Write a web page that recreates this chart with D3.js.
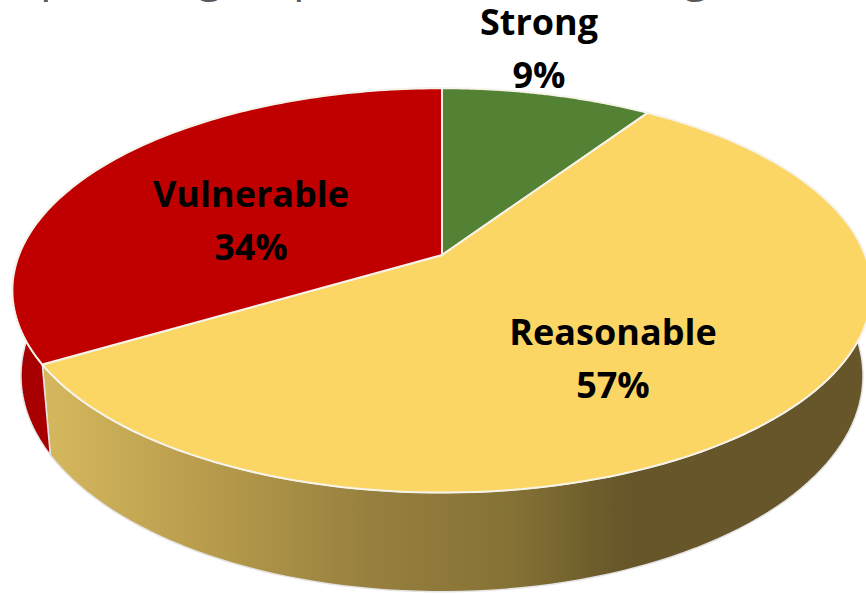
<!DOCTYPE html>
<html>
<head>
<meta charset="utf-8">
<script src="https://cdn.jsdelivr.net/npm/d3@7"></script>
<style>
html, body { margin: 0; padding: 0; background: #fff; overflow: hidden; }
svg { display: block; }
.label { font-family: "Open Sans", sans-serif; font-weight: 700; font-size: 36px; fill: #000; text-anchor: middle; }
.title { font-family: "Open Sans", sans-serif; font-size: 46px; fill: #595959; text-anchor: middle; }
</style>
</head>
<body>
<div id="chart"></div>
<script>
// data
const categories = ['Strong', 'Reasonable', 'Vulnerable'];
// estimated from the slice edges, the labels round them to 9 / 57 / 34
const shares = [9.4, 57.1, 33.5];
const sliceColors = ['#548235', '#fbd665', '#c00000'];
// only the tails of the title are left in the picture
const titleGlyphs = ['p', 'g', 'p', 'g'];
const titleX = [54, 210, 307, 696];
const labelX = [539, 613, 251];
const labelY = [35, 345, 207];

const width = 866, height = 594;

const svg = d3.select('#chart').append('svg')
    .attr('width', width).attr('height', height);

// tilted disc: perspective of a unit circle
const cx = 442, cy = 255, a = 423, b = 196, k = 0.175;
function rimTop(angle) {
    const X = Math.sin(angle), Y = -Math.cos(angle);
    const s = 1 / (1 - k * Y);
    return [cx + a * X * s, cy + b * Y * s];
}
// rim at the bottom of the wall
function rimBase(angle) {
    const p = rimTop(angle);
    return [cx + (p[0] - cx) * 0.98, cy + 83 + (p[1] - cy) * 1.068];
}
function arcAngles(d) {
    return d3.range(0, 121).map(i => d.startAngle + (d.endAngle - d.startAngle) * i / 120);
}

const pie = d3.pie().sort(null).value(d => d.share);
const slices = pie(categories.map((c, i) => ({ name: c, share: shares[i], color: sliceColors[i], i: i })));
const line = d3.line();

// wall gradient, light on the left and dark from about x=630
const grad = svg.append('defs').append('linearGradient')
    .attr('id', 'wall').attr('gradientUnits', 'userSpaceOnUse')
    .attr('x1', 40).attr('x2', 866).attr('y1', 0).attr('y2', 0);
[[0, '#d6b85e'], [0.2, '#b89c4c'], [0.4, '#97803f'], [0.57, '#857235'], [0.71, '#665629'], [1, '#665629']]
    .forEach(s => grad.append('stop').attr('offset', s[0]).attr('stop-color', s[1]));

// walls first, the top covers what is behind
const walls = svg.append('g');
slices.filter(d => d.data.name !== 'Strong').forEach(d => {
    const angles = arcAngles(d);
    const pts = angles.map(rimTop).concat(angles.slice().reverse().map(rimBase));
    walls.append('path')
        .attr('d', line(pts) + 'Z')
        .attr('fill', d.data.name === 'Vulnerable' ? '#a80000' : 'url(#wall)')
        .attr('stroke', '#e4e4e4')
        .attr('stroke-width', 1.5);
});

// top of the disc
svg.append('g').selectAll('path')
    .data(slices)
    .join('path')
    .attr('d', d => line([[cx, cy]].concat(arcAngles(d).map(rimTop))) + 'Z')
    .attr('fill', d => d.data.color)
    .attr('stroke', '#f6f3ea')
    .attr('stroke-width', 2)
    .attr('stroke-linejoin', 'round');

// labels
const labels = svg.append('g').selectAll('text')
    .data(slices)
    .join('text')
    .attr('class', 'label');
labels.append('tspan')
    .attr('x', d => labelX[d.data.i])
    .attr('y', d => labelY[d.data.i])
    .text(d => d.data.name);
labels.append('tspan')
    .attr('x', d => labelX[d.data.i])
    .attr('y', d => labelY[d.data.i] + 53)
    .text(d => Math.round(d.data.share) + '%');

// clipped title
svg.append('g').selectAll('text')
    .data(titleGlyphs)
    .join('text')
    .attr('class', 'title')
    .attr('x', (d, i) => titleX[i])
    .attr('y', -9)
    .text(d => d);
</script>
</body>
</html>
